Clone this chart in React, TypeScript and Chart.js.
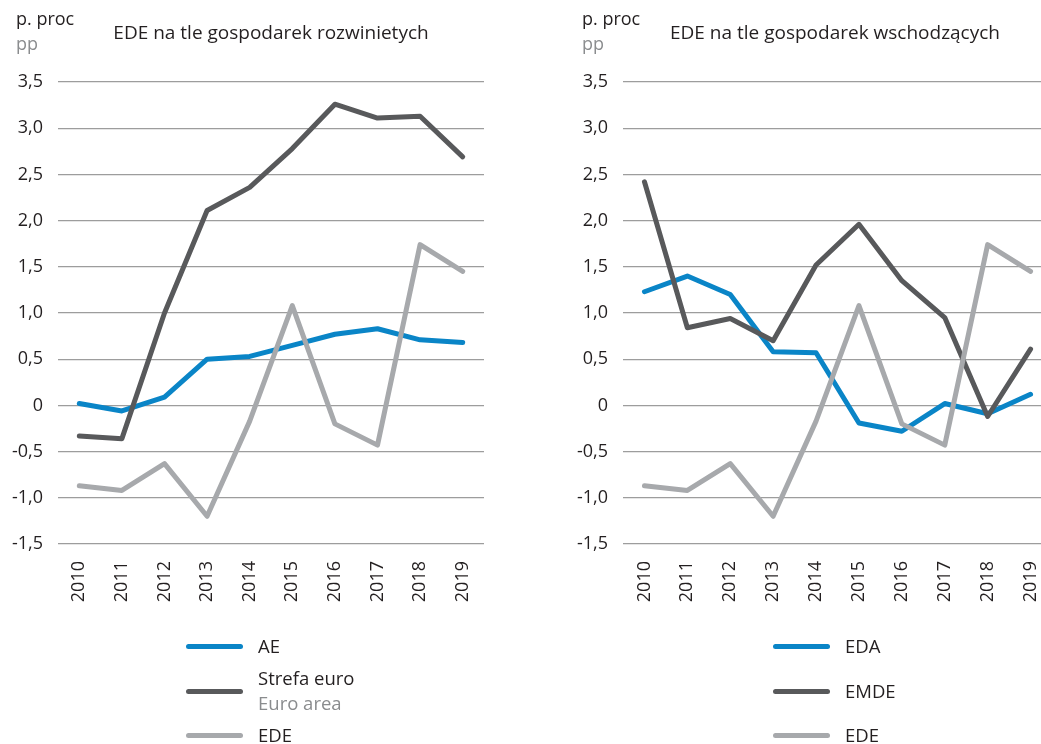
import React, { useEffect, useRef } from "react";
import { Chart, registerables } from "chart.js";

Chart.register(...registerables);

// ---------- data ----------
const years = ["2010", "2011", "2012", "2013", "2014", "2015", "2016", "2017", "2018", "2019"];

const aeValues = [0.02, -0.06, 0.09, 0.5, 0.53, 0.65, 0.77, 0.83, 0.71, 0.68];
const euroAreaValues = [-0.33, -0.36, 1.0, 2.11, 2.36, 2.78, 3.26, 3.11, 3.13, 2.69];
const edeValues = [-0.87, -0.92, -0.63, -1.2, -0.17, 1.08, -0.2, -0.43, 1.74, 1.45];

const edaValues = [1.23, 1.4, 1.2, 0.58, 0.57, -0.19, -0.28, 0.02, -0.09, 0.12];
const emdeValues = [2.42, 0.84, 0.94, 0.7, 1.52, 1.96, 1.35, 0.95, -0.12, 0.61];

const yMin = -1.5;
const yMax = 3.5;
const yStep = 0.5;

const leftTitle = "EDE na tle gospodarek rozwinietych";
const rightTitle = "EDE na tle gospodarek wschodzących";
const unitPl = "p. proc";
const unitEn = "pp";

const BLUE = "#0a85c7";
const DARK = "#58595b";
const LIGHT = "#a7a9ac";
const TEXT = "#231f20";
const SUBTEXT = "#8a8c8e";
const GRID = "#9d9d9d";
const FONT = "'Open Sans', sans-serif";

type Series = { label: string; data: number[]; color: string };

function formatTick(v: number): string {
  if (Math.abs(v) < 1e-9) return "0";
  return v.toFixed(1).replace(".", ",");
}

function LineChart(props: { series: Series[]; left: number; width: number }) {
  const ref = useRef<HTMLCanvasElement | null>(null);
  useEffect(() => {
    if (!ref.current) return;
    const chart = new Chart(ref.current, {
      type: "line",
      data: {
        labels: years,
        datasets: props.series.map((s, i) => ({
          label: s.label,
          data: s.data,
          borderColor: s.color,
          backgroundColor: s.color,
          borderWidth: 5,
          pointRadius: 0,
          tension: 0,
          fill: false,
          borderJoinStyle: "round" as const,
          borderCapStyle: "round" as const,
          order: props.series.length - i,
        })),
      },
      options: {
        animation: false,
        responsive: true,
        maintainAspectRatio: false,
        layout: { padding: { top: 82, bottom: 50, left: 0, right: 0 } },
        plugins: { legend: { display: false }, title: { display: false }, tooltip: { enabled: false } },
        scales: {
          x: {
            type: "category",
            offset: true,
            grid: { display: false, drawTicks: false },
            border: { display: false },
            ticks: {
              color: TEXT,
              font: { family: FONT, size: 18 },
              minRotation: 90,
              maxRotation: 90,
              padding: 17,
              autoSkip: false,
            },
            afterFit: (scale: any) => {
              scale.height = 150;
              scale.paddingLeft = 0;
              scale.paddingRight = 0;
            },
          },
          y: {
            min: yMin,
            max: yMax,
            grid: { color: GRID, lineWidth: 1.3, drawTicks: false },
            border: { display: false },
            ticks: {
              stepSize: yStep,
              color: TEXT,
              font: { family: FONT, size: 18 },
              padding: 15,
              callback: (v: any) => formatTick(Number(v)),
            },
            afterFit: (scale: any) => {
              scale.width = 58;
              scale.paddingTop = 0;
              scale.paddingBottom = 0;
            },
          },
        },
      },
    });
    return () => chart.destroy();
  }, []);
  return (
    <div style={{ position: "absolute", left: props.left, top: 0, width: props.width, height: 744 }}>
      <canvas ref={ref} />
    </div>
  );
}

const abs = (left: number, top: number, extra: React.CSSProperties = {}): React.CSSProperties => ({
  position: "absolute",
  left,
  top,
  fontFamily: FONT,
  fontSize: 18.5,
  lineHeight: "22px",
  whiteSpace: "nowrap",
  color: TEXT,
  ...extra,
});

function LegendItem(props: { x: number; y: number; color: string; label: string; sub?: string }) {
  return (
    <>
      <div
        style={{
          position: "absolute",
          left: props.x,
          top: props.y - 2.5,
          width: 57,
          height: 5,
          borderRadius: 3,
          background: props.color,
        }}
      />
      {props.sub ? (
        <>
          <div style={abs(props.x + 72, props.y - 24)}>{props.label}</div>
          <div style={abs(props.x + 72, props.y + 1, { color: SUBTEXT })}>{props.sub}</div>
        </>
      ) : (
        <div style={abs(props.x + 72, props.y - 11)}>{props.label}</div>
      )}
    </>
  );
}

export default function App() {
  const leftSeries: Series[] = [
    { label: "AE", data: aeValues, color: BLUE },
    { label: "Strefa euro", data: euroAreaValues, color: DARK },
    { label: "EDE", data: edeValues, color: LIGHT },
  ];
  const rightSeries: Series[] = [
    { label: "EDA", data: edaValues, color: BLUE },
    { label: "EMDE", data: emdeValues, color: DARK },
    { label: "EDE", data: edeValues, color: LIGHT },
  ];
  return (
    <div
      style={{
        position: "fixed",
        left: 0,
        top: 0,
        width: 1041,
        height: 744,
        overflow: "hidden",
        background: "#fff",
      }}
    >
      <LineChart series={leftSeries} left={0} width={484} />
      <LineChart series={rightSeries} left={565} width={487} />

      <div style={abs(16, 7, { fontSize: 18 })}>{unitPl}</div>
      <div style={abs(16, 32, { fontSize: 18, color: SUBTEXT })}>{unitEn}</div>
      <div style={abs(271, 21, { fontSize: 19, transform: "translateX(-50%)" })}>{leftTitle}</div>

      <div style={abs(582, 7, { fontSize: 18 })}>{unitPl}</div>
      <div style={abs(582, 32, { fontSize: 18, color: SUBTEXT })}>{unitEn}</div>
      <div style={abs(835, 21, { fontSize: 19, transform: "translateX(-50%)" })}>{rightTitle}</div>

      <LegendItem x={186} y={646} color={BLUE} label="AE" />
      <LegendItem x={186} y={691} color={DARK} label="Strefa euro" sub="Euro area" />
      <LegendItem x={186} y={735} color={LIGHT} label="EDE" />

      <LegendItem x={773} y={646} color={BLUE} label="EDA" />
      <LegendItem x={773} y={691} color={DARK} label="EMDE" />
      <LegendItem x={773} y={735} color={LIGHT} label="EDE" />
    </div>
  );
}
